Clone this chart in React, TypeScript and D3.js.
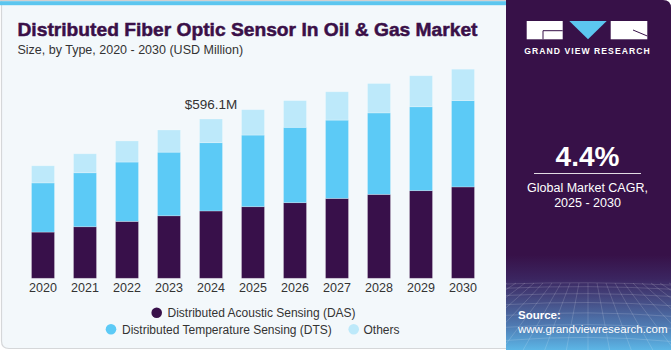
import React from "react";
import * as d3 from "d3";

const years = ["2020","2021","2022","2023","2024","2025","2026","2027","2028","2029","2030"];
const das = [173, 193, 213, 234, 252.0, 268, 283, 299, 314, 328, 342];
const dts = [184, 202, 222, 238, 255.5, 268, 282, 293, 305, 314, 323];
const others = [64, 71, 79, 83, 88.6, 95, 100, 106, 110, 116, 117.5];
const seriesNames = ["Distributed Acoustic Sensing (DAS)", "Distributed Temperature Sensing (DTS)", "Others"];
const seriesColors = ["#38104a", "#5ccaf6", "#bde9fa"];
const highlightYear = "2024";
const highlightLabel = "$596.1M";
const cagr = "4.4%";

const W = 671, H = 350;
const FONT = "'Liberation Sans', Arial, sans-serif";

export default function App() {
  const rows = years.map((y, i) => ({ year: y, das: das[i], dts: dts[i], others: others[i] }));
  const stack = d3.stack<any>().keys(["das", "dts", "others"])(rows);
  const x = d3.scalePoint<string>().domain(years).range([43, 463]);
  const y = d3.scaleLinear().domain([0, 800]).range([278.3, 278.3 - 800 * (159.3 / 596.1)]);
  const bw = 23;
  const hiIdx = years.indexOf(highlightYear);
  const hiTotal = das[hiIdx] + dts[hiIdx] + others[hiIdx];

  // decorative grid in the side panel
  const gridH = d3.range(0, 9).map(i => 284 + Math.pow(i, 1.45) * 4.2);
  const gridV = d3.range(-14, 15).map(i => i);

  return (
    <svg width={W} height={H} style={{ position: "absolute", left: 0, top: 0 }} fontFamily={FONT}>
      <defs>
        <linearGradient id="sideGrad" x1="0" y1="0" x2="0" y2="1">
          <stop offset="0" stopColor="#371148" />
          <stop offset="0.25" stopColor="#3b2560" />
          <stop offset="0.45" stopColor="#44467e" />
          <stop offset="0.75" stopColor="#4f7cb4" />
          <stop offset="1" stopColor="#5cb6e6" />
        </linearGradient>
        <clipPath id="sideClip">
          <rect x={506} y={255} width={165} height={95} />
        </clipPath>
      </defs>
      <rect x={0} y={0} width={W} height={H} fill="#ffffff" />
      {/* main panel */}
      <path d={`M1.5,0 H510 V348.5 H9 Q1.5,348.5 1.5,341 Z`} fill="#f3f8fb" stroke="#d5d7d9" strokeWidth={1.2} />
      <rect x={0} y={0} width={510} height={1.2} fill="#d0d0d0" />
      <rect x={0} y={1.2} width={510} height={4} fill="#5cc6ef" />
      {/* side panel */}
      <path d={`M506,0 H663 Q671,0 671,8 V350 H506 Z`} fill="#371148" />
      <rect x={506} y={255} width={165} height={95} fill="url(#sideGrad)" />
      <g clipPath="url(#sideClip)" stroke="#ffffff" strokeOpacity={0.22} strokeWidth={0.7} fill="none">
        {gridH.map((gy, i) => (
          <path key={"h" + i} d={`M506,${gy} Q588,${gy - 3 - i * 0.6} 671,${gy + 1}`} />
        ))}
        {gridV.map((i) => (
          <line key={"v" + i} x1={588 + i * 9} y1={283} x2={588 + i * 22} y2={352} />
        ))}
      </g>
      {/* logo */}
      <rect x={526.7} y={21} width={36} height={18.3} fill="#ffffff" />
      <path d="M543,39.3 V30.7 H562.7" fill="none" stroke="#371148" strokeWidth={1} />
      <path d="M569.3,21 H606.7 L588,39.3 Z" fill="#5cc6ef" />
      <rect x={610.7} y={21} width={36.6} height={18.3} fill="#ffffff" />
      <path d="M633,30 L647.3,36" fill="none" stroke="#371148" strokeWidth={1} />
      <text x={587.5} y={53.5} textAnchor="middle" fill="#ffffff" fontSize={8.6} fontWeight="bold" letterSpacing={1.05}>GRAND VIEW RESEARCH</text>
      <text x={587.5} y={165.5} textAnchor="middle" fill="#ffffff" fontSize={28} fontWeight="bold">{cagr}</text>
      <line x1={534} x2={641} y1={173.5} y2={173.5} stroke="#ffffff" strokeOpacity={0.85} strokeWidth={1} />
      <text x={587.5} y={192} textAnchor="middle" fill="#ffffff" fontSize={12.5}>Global Market CAGR,</text>
      <text x={587.5} y={206.5} textAnchor="middle" fill="#ffffff" fontSize={12.5}>2025 - 2030</text>
      <text x={518} y={319} fill="#ffffff" fontSize={11.5} fontWeight="bold">Source:</text>
      <text x={518} y={333} fill="#ffffff" fontSize={11.5}>www.grandviewresearch.com</text>
      {/* titles */}
      <text x={17.5} y={36} fill="#3a1048" stroke="#3a1048" strokeWidth={0.5} fontSize={18.8} fontWeight="bold"
        textLength={460} lengthAdjust="spacingAndGlyphs">Distributed Fiber Optic Sensor In Oil &amp; Gas Market</text>
      <text x={17.5} y={53.5} fill="#333333" fontSize={12.5}>Size, by Type, 2020 - 2030 (USD Million)</text>
      {/* bars */}
      {stack.map((s, si) => (
        <g key={si} fill={seriesColors[si]}>
          {s.map((d, i) => (
            <rect key={i} x={(x(years[i]) as number) - bw / 2} y={y(d[1])} width={bw}
              height={y(d[0]) - y(d[1])} stroke="#ffffff" strokeOpacity={0.3} strokeWidth={0.8} />
          ))}
        </g>
      ))}
      <text x={x(highlightYear) as number} y={y(hiTotal) - 10.5} textAnchor="middle" fill="#333333" fontSize={13.5}>{highlightLabel}</text>
      {/* x labels */}
      {years.map(yr => (
        <text key={yr} x={x(yr) as number} y={291.5} textAnchor="middle" fill="#333333" fontSize={12.5}>{yr}</text>
      ))}
      {/* legend */}
      <circle cx={156.7} cy={312.7} r={5.3} fill={seriesColors[0]} />
      <text x={167.5} y={317} fill="#333333" fontSize={12}>{seriesNames[0]}</text>
      <circle cx={111} cy={329.2} r={5.3} fill={seriesColors[1]} />
      <text x={122} y={333.5} fill="#333333" fontSize={12}>{seriesNames[1]}</text>
      <circle cx={353.7} cy={329.2} r={5.3} fill={seriesColors[2]} />
      <text x={363.5} y={333.5} fill="#333333" fontSize={12}>{seriesNames[2]}</text>
    </svg>
  );
}
